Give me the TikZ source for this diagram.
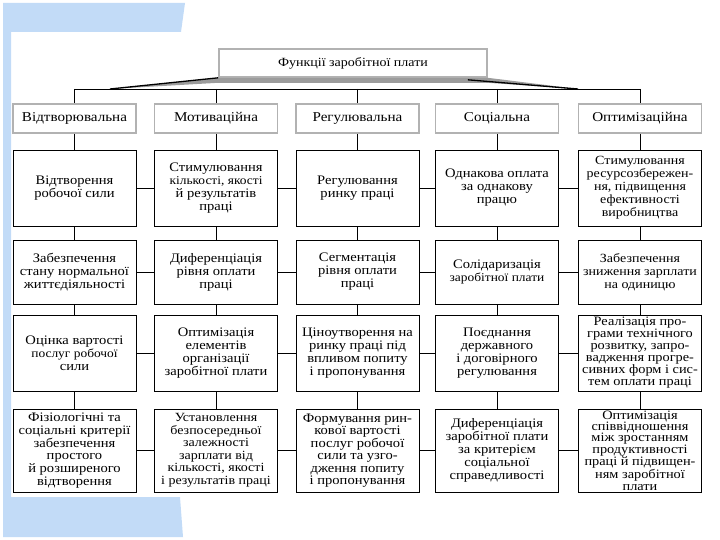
\documentclass[tikz,border=0pt]{standalone}
\usepackage{fontspec}
\setmainfont{Liberation Serif}[FakeStretch=1.12]
\usetikzlibrary{calc}
\definecolor{slideblue}{HTML}{C2DBF7}
\definecolor{hatgray}{HTML}{9C9C9C}

\begin{document}
\begin{tikzpicture}[x=1pt, y=-1pt,
  hd/.style={rectangle, draw=gray!60, line width=1.6pt, fill=white, minimum width=#1, minimum height=29pt, inner sep=1pt, font=\fontsize{13.5}{14}\selectfont},
  hd/.default=123pt,
  bx/.style={rectangle, draw=black, line width=0.9pt, fill=white, minimum width=123pt, minimum height=#1, inner sep=1pt, align=center, font=\fontsize{13}{13}\selectfont},
  ln/.style={draw=black, line width=0.8pt}
]
  \useasboundingbox (0,0) rectangle (720,540);
  % slide background
  \fill[slideblue] (3,3) -- (185,3) -- (181,32) -- (11,32) -- (11,497) -- (180,497) -- (183,537) -- (3,537) -- cycle;

  % top box and its hat
  \node[hd=268pt, minimum height=28pt, font=\fontsize{12.5}{13}\selectfont] (top) at (353,63) {Функції заробітної плати};
  \coordinate (bl) at (110,89);
  \coordinate (br) at (578,89);
  \fill[hatgray] (bl) -- (top.south west) -- (top.south east) -- (br) -- ($(top.south east)+(0,5)$) -- ($(top.south west)+(0,5)$) -- cycle;
  \draw[line width=1.3pt] (bl) -- (top.south west);
  \draw[line width=1.3pt] ($(top.south east)+(-20,2)$) -- (br);

  % headers
  \node[hd] (h1) at (74.5,118.5) {Відтворювальна};
  \node[hd] (h2) at (216,118.5)  {Мотиваційна};
  \node[hd] (h3) at (357.5,118.5) {Регулювальна};
  \node[hd] (h4) at (497,118.5)  {Соціальна};
  \node[hd] (h5) at (640,118.5)  {Оптимізаційна};

  % row 1
  \node[bx=76pt] (a1) at (74.5,188) {Відтворення\\робочої сили};
  \node[bx=76pt] (a2) at (216,188) {Стимулювання\\{\fontsize{12}{13}\selectfont кількості, якості}\\й результатів\\праці};
  \node[bx=76pt] (a3) at (357.5,188) {Регулювання\\ринку праці};
  \node[bx=76pt] (a4) at (497,188) {Однакова оплата\\за однакову\\працю};
  \node[bx=76pt, font=\fontsize{12.5}{13}\selectfont] (a5) at (640,188) {Стимулювання\\ресурсозбережен-\\ня, підвищення\\ефективності\\виробництва};

  % row 2
  \node[bx=64pt] (b1) at (74.5,272) {Забезпечення\\стану нормальної\\життєдіяльності};
  \node[bx=64pt] (b2) at (216,272) {Диференціація\\рівня оплати\\праці};
  \node[bx=64pt] (b3) at (357.5,272) {Сегментація\\рівня оплати\\праці};
  \node[bx=64pt] (b4) at (497,272) {Солідаризація\\{\fontsize{12}{13}\selectfont заробітної плати}};
  \node[bx=64pt, font=\fontsize{12.5}{13}\selectfont] (b5) at (640,272) {Забезпечення\\зниження зарплати\\на одиницю};

  % row 3
  \node[bx=76pt] (c1) at (74.5,353) {Оцінка вартості\\{\fontsize{12}{13}\selectfont послуг робочої}\\сили};
  \node[bx=76pt] (c2) at (216,353) {Оптимізація\\елементів\\організації\\заробітної плати};
  \node[bx=76pt] (c3) at (357.5,353) {Ціноутворення на\\ринку праці під\\впливом попиту\\і пропонування};
  \node[bx=76pt] (c4) at (497,353) {Поєднання\\державного\\і договірного\\регулювання};
  \node[bx=76pt, font=\fontsize{12.8}{12}\selectfont] (c5) at (640,353) {Реалізація про-\\грами технічного\\розвитку, запро-\\вадження прогре-\\сивних форм і сис-\\тем оплати праці};

  % row 4
  \node[bx=83pt, font=\fontsize{13}{12.8}\selectfont] (d1) at (74.5,450.5) {Фізіологічні та\\соціальні критерії\\забезпечення\\простого\\й розширеного\\відтворення};
  \node[bx=83pt, font=\fontsize{12.5}{12.5}\selectfont] (d2) at (216,450.5) {Установлення\\безпосередньої\\залежності\\зарплати від\\кількості, якості\\і результатів праці};
  \node[bx=83pt, font=\fontsize{13}{12.5}\selectfont] (d3) at (357.5,450.5) {Формування рин-\\кової вартості\\послуг робочої\\сили та узго-\\дження попиту\\і пропонування};
  \node[bx=83pt] (d4) at (497,450.5) {Диференціація\\заробітної плати\\за критерієм\\соціальної\\справедливості};
  \node[bx=83pt, font=\fontsize{12.8}{11.4}\selectfont] (d5) at (640,450.5) {Оптимізація\\співвідношення\\між зростанням\\продуктивності\\праці й підвищен-\\ням заробітної\\плати};

  % bar under the hat
  \coordinate (t1) at (74.5,89);
  \coordinate (t5) at (640,89);
  \draw[ln] (t1) -- (t5);
  \draw[ln] (t1) -- (h1);
  \draw[ln] (h2 |- t1) -- (h2);
  \draw[ln] (h3 |- t1) -- (h3);
  \draw[ln] (h4 |- t1) -- (h4);
  \draw[ln] (t5) -- (h5);

  % columns
  \draw[ln] (h1) -- (a1) (a1) -- (b1) (b1) -- (c1) (c1) -- (d1);
  \draw[ln] (h2) -- (a2) (a2) -- (b2) (b2) -- (c2) (c2) -- (d2);
  \draw[ln] (h3) -- (a3) (a3) -- (b3) (b3) -- (c3) (c3) -- (d3);
  \draw[ln] (h4) -- (a4) (a4) -- (b4) (b4) -- (c4) (c4) -- (d4);
  \draw[ln] (h5) -- (a5) (a5) -- (b5) (b5) -- (c5) (c5) -- (d5);

  % rows
  \draw[ln] (a1) -- (a2) (a2) -- (a3) (a3) -- (a4) (a4) -- (a5);
  \draw[ln] (b1) -- (b2) (b2) -- (b3) (b3) -- (b4) (b4) -- (b5);
  \draw[ln] (c1) -- (c2) (c2) -- (c3) (c3) -- (c4) (c4) -- (c5);
  \draw[ln] (d1) -- (d2) (d2) -- (d3) (d3) -- (d4) (d4) -- (d5);
\end{tikzpicture}
\end{document}
